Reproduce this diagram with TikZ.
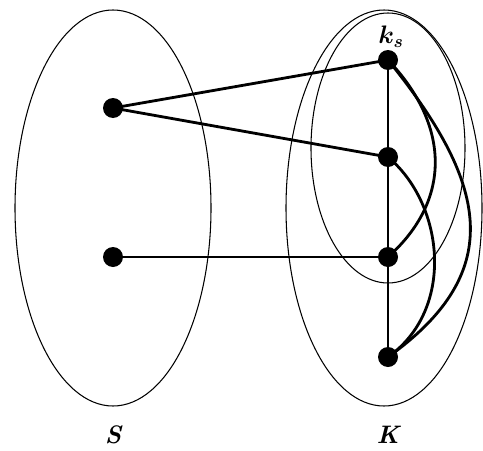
\documentclass[tikz,border=0pt]{standalone}
\usepackage{amsmath}

\tikzset{
  vtx/.style={circle, fill=black, inner sep=0pt, minimum size=0.4cm},
  setline/.style={line width=0.6pt},
  edge/.style={line width=1.6pt},
  lbl/.style={font=\Large\bfseries\itshape}
}

\begin{document}
\begin{tikzpicture}[x=0.02cm, y=-0.02cm]
\useasboundingbox (0,0) rectangle (483,450);
% the sets:
\draw[setline] (113,208) ellipse [x radius=98, y radius=198];
\draw[setline] (384,208) ellipse [x radius=98, y radius=198];
\draw[setline] (388,148) ellipse [x radius=77, y radius=135];
% vertices of S:
\node[vtx] (s1) at (113,108) {};
\node[vtx] (s2) at (113,257) {};
% vertices of K:
\node[vtx] (k1) at (388,60) {};
\node[vtx] (k2) at (388,157) {};
\node[vtx] (k3) at (388,257) {};
\node[vtx] (k4) at (388,357) {};
\node[lbl] (ks) at (391,37) {$\boldsymbol{k_s}$};
\node[lbl] (labS) at (113,435) {S};
\node[lbl] (labK) at (388,435) {K};
% edges between S and K:
\draw[edge] (s1.center) -- (k1.center);
\draw[edge] (s1.center) -- (k2.center);
\draw[edge] (s2.center) -- (k3.center);
% edges inside K:
\draw[edge] (k1.center) -- (k2.center) -- (k3.center) -- (k4.center);
\draw[edge] (k1.center) .. controls (450,125) and (452,200) .. (k3.center);
\draw[edge] (k1.center) .. controls (485,180) and (510,270) .. (k4.center);
\draw[edge] (k2.center) .. controls (445,205) and (455,310) .. (k4.center);
\end{tikzpicture}
\end{document}
